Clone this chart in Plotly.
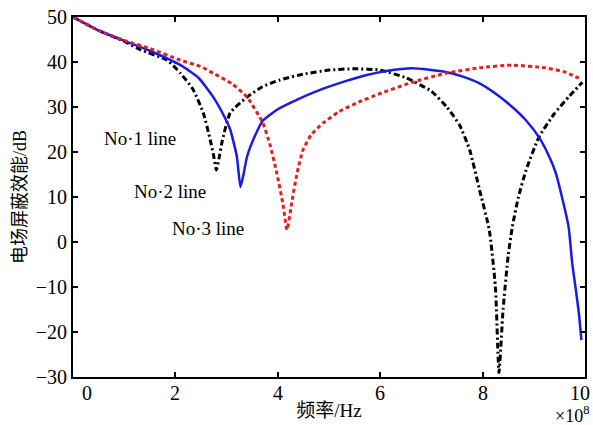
import plotly.graph_objects as go

# No·1 line (black dash-dot)
x1 = [0, 0.5, 1, 1.32, 1.84, 2.1, 2.35, 2.55, 2.68, 2.75, 2.8, 2.85, 2.92, 3.07, 3.4, 3.7, 4.04, 4.5, 5.0, 5.5, 6.0, 6.5, 7.0, 7.3, 7.55, 7.75, 7.94, 8.13, 8.25, 8.32, 8.4, 8.5, 8.58, 8.7, 8.85, 9.1, 9.4, 9.7, 9.95]
y1 = [50, 47, 44.6, 42.7, 40.4, 37.5, 33.8, 28.5, 22.7, 19, 16, 18.5, 22.7, 28.7, 32.2, 34.5, 36, 37.3, 38.2, 38.5, 38.2, 36.5, 33.5, 30, 26, 20.4, 11.6, 2.7, -10, -29, -15, -3, 3.3, 10, 16, 23.3, 28.5, 32.5, 35.5]

# No·2 line (blue solid)
x2 = [0, 0.5, 1, 1.5, 2.1, 2.45, 2.74, 2.95, 3.07, 3.2, 3.27, 3.33, 3.4, 3.55, 3.71, 4.0, 4.37, 4.8, 5.34, 5.7, 6.12, 6.63, 7.28, 7.6, 7.93, 8.25, 8.58, 8.85, 9.1, 9.3, 9.43, 9.55, 9.68, 9.75, 9.82, 9.88, 9.93]
y2 = [50, 47, 44.7, 42.5, 39.3, 36.5, 32.2, 28, 25, 19, 12.2, 15, 19, 23.5, 27, 29.5, 31.6, 33.7, 35.8, 37, 38, 38.6, 37.8, 36.8, 35.3, 33, 30, 27, 23.3, 19, 15.3, 10, 3.3, -4.7, -10.5, -15.8, -21.8]

# No·3 line (red dotted)
x3 = [0, 0.5, 1, 1.5, 2.1, 2.49, 2.74, 3.1, 3.4, 3.71, 3.85, 3.98, 4.1, 4.18, 4.28, 4.38, 4.49, 4.65, 4.88, 5.2, 5.54, 6.0, 6.63, 7.28, 8.0, 8.58, 9.23, 9.6, 9.88]
y3 = [50, 47, 44.8, 43, 40.4, 39.0, 37.5, 35.2, 32.2, 26.4, 21.5, 15.3, 8.5, 2.7, 9.3, 15.5, 20.4, 23.8, 26.4, 29, 30.9, 33, 35.5, 37.5, 38.8, 39.3, 38.7, 37.8, 36.4]

x_ticks = [0, 2, 4, 6, 8, 10]
x_ticktext = ["0", "2", "4", "6", "8", "10"]
y_ticks = [-30, -20, -10, 0, 10, 20, 30, 40, 50]

labels = ["No·1 line", "No·2 line", "No·3 line"]

fig = go.Figure()
fig.add_trace(go.Scatter(x=x1, y=y1, mode="lines", line=dict(color="black", width=3, dash="6px,3px,2px,3px", shape="spline", smoothing=0.5)))
fig.add_trace(go.Scatter(x=x2, y=y2, mode="lines", line=dict(color="#1a1ae6", width=2.5, shape="spline", smoothing=0.5)))
fig.add_trace(go.Scatter(x=x3, y=y3, mode="lines", line=dict(color="#e61e1e", width=3, dash="4px,3px", shape="spline", smoothing=0.5)))

serif = "Liberation Serif"
font = dict(family=serif, size=20, color="black")
cjk = "Liberation Serif, Noto Sans CJK SC"
fig.update_layout(
    width=593, height=425,
    margin=dict(l=73, r=8, t=17, b=48),
    paper_bgcolor="white", plot_bgcolor="white",
    showlegend=False,
    font=font,
    xaxis=dict(range=[0, 10], tickvals=x_ticks, showticklabels=False, ticks="inside", ticklen=5,
               tickwidth=2, tickcolor="black", showline=True, linecolor="black", linewidth=2,
               mirror="ticks", showgrid=False, zeroline=False, automargin=False,
               title=dict(text="频率/Hz", font=dict(family=cjk, size=19), standoff=26)),
    yaxis=dict(range=[-30, 50], tickvals=y_ticks, ticks="inside", ticklen=5, tickwidth=2,
               tickcolor="black", showline=True, linecolor="black", linewidth=2, mirror="ticks",
               showgrid=False, zeroline=False, automargin=False,
               tickfont=dict(family=serif, size=20),
               title=dict(text="电场屏蔽效能/dB", font=dict(family=cjk, size=18), standoff=4)),
)

# x tick labels drawn as annotations so the first/last can sit like the reference
for xv, tt in zip(x_ticks, x_ticktext):
    if xv == x_ticks[0]:
        xa, xs = "center", 14
    elif xv == x_ticks[-1]:
        xa, xs = "right", 7
    else:
        xa, xs = "center", 0
    fig.add_annotation(x=xv, y=-30, xref="x", yref="y", text=tt, showarrow=False, yanchor="top",
                       xanchor=xa, yshift=-3, xshift=xs, font=dict(family=serif, size=20, color="black"))

fig.add_annotation(x=10, y=-30, text="×10<sup>8</sup>", showarrow=False, yanchor="top", xanchor="right",
                   yshift=-24, xshift=6, font=dict(family=serif, size=18, color="black"))

lab_pos = [(1.31, 23.1), (1.9, 11.3), (2.63, 3.1)]
for t, (lx, ly) in zip(labels, lab_pos):
    fig.add_annotation(x=lx, y=ly, text=t, showarrow=False, font=dict(family=serif, size=19, color="black"))

fig.write_html("out.html")
